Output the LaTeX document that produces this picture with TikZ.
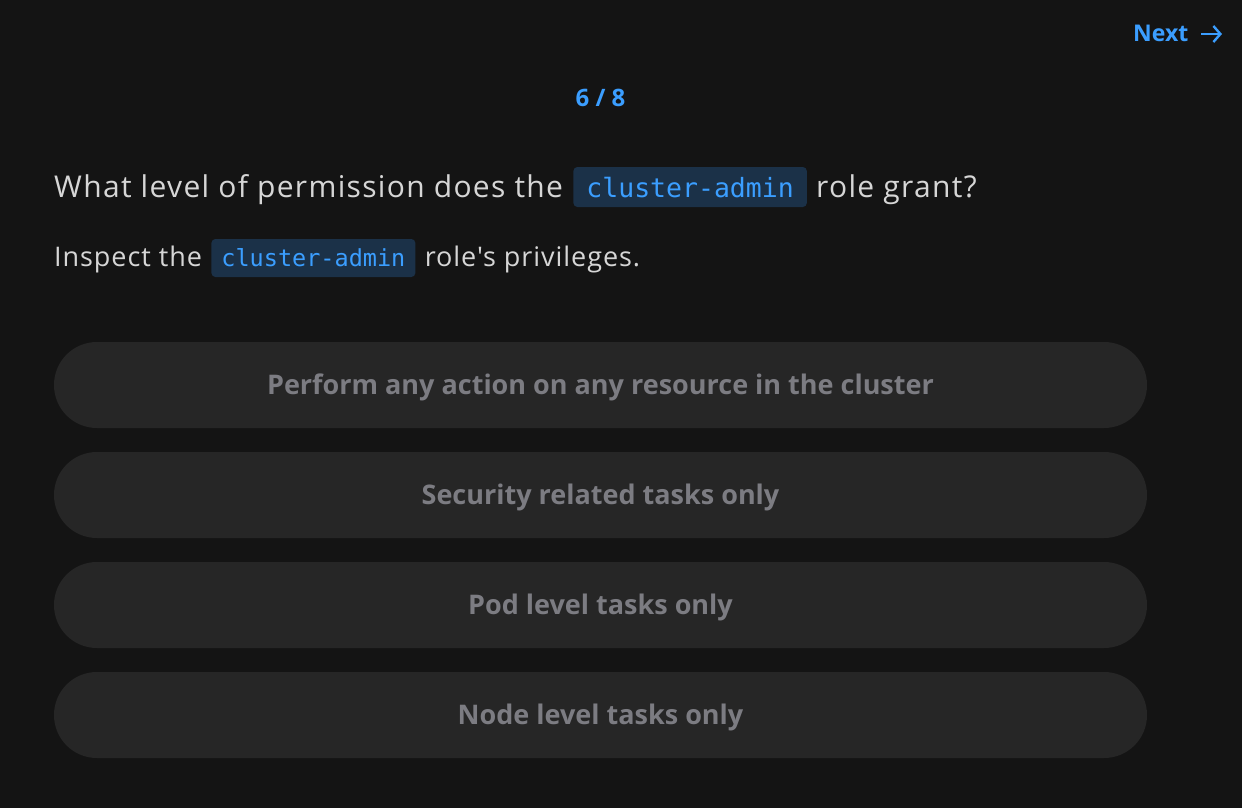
\documentclass[tikz,border=0pt]{standalone}
\usepackage{fontspec}
\setmainfont{Open Sans}[Ligatures=TeXOff]
\newfontfamily\codefont{DejaVu Sans Mono}
\usetikzlibrary{positioning,arrows.meta}
\definecolor{pagebg}{HTML}{141414}
\definecolor{choicebg}{HTML}{262626}
\definecolor{choicefg}{HTML}{7C7C82}
\definecolor{plainfg}{HTML}{D6D6D6}
\definecolor{accent}{HTML}{3B9EFF}
\definecolor{codebg}{HTML}{1B3148}
\def\plainfont#1#2{\fontsize{#1}{#1}\selectfont\addfontfeatures{LetterSpace=#2}}
\tikzset{
  qtext/.style={inner sep=0pt, text=plainfg, anchor=base west},
  codebox/.style={fill=codebg, text=accent, rounded corners=4pt, inner ysep=0pt, anchor=base west},
  choice/.style={fill=choicebg, text=choicefg, font=\fontsize{27}{30}\selectfont\bfseries,
    minimum width=1093pt, minimum height=86pt, rounded corners=42.9pt,
    text height=19.5pt, text depth=0pt, inner sep=0pt},
}
\begin{document}
\begin{tikzpicture}[x=1pt,y=-1pt]
	%%%%% START %%%%%
	\fill[pagebg] (0,0) rectangle (1242,808);
	\useasboundingbox (0,0) rectangle (1242,808);
	
	\node[text=accent, font=\fontsize{23}{28}\selectfont\bfseries, inner sep=0pt, anchor=base west] (next) at (1133,42) {Next};
	\coordinate (nexttail) at (1201,34);
	\coordinate (nexthead) at (1222,34);
	\draw[accent, line width=2.4pt, -{Straight Barb[length=7pt,width=16pt]}] (nexttail) -- (nexthead);
	
	\node[text=accent, font=\fontsize{24}{28}\selectfont\bfseries, inner sep=0pt, anchor=base] (count) at (600.5,106) {6 / 8};
	
	\node[qtext, font=\plainfont{30}{4.4}] (qa) at (54,197) {What level of permission does the};
	\node[codebox, font=\codefont\fontsize{26.5}{30}\selectfont, inner xsep=13pt, text height=30pt, text depth=10pt,
	  right=10pt of qa.base east, anchor=base west] (qcode) {cluster-admin};
	\node[qtext, font=\plainfont{30}{4.4}, right=9pt of qcode.base east, anchor=base west] (qb) {role grant?};
	
	\node[qtext, font=\plainfont{27}{3.5}] (ha) at (54,266) {Inspect the};
	\node[codebox, font=\codefont\fontsize{23.5}{28}\selectfont, inner xsep=10pt, text height=27pt, text depth=11pt,
	  right=9pt of ha.base east, anchor=base west] (hcode) {cluster-admin};
	\node[qtext, font=\plainfont{27}{3.5}, right=9pt of hcode.base east, anchor=base west] (hb) {role's privileges.};
	
	\node[choice] (c1) at (600.5,385) {Perform any action on any resource in the cluster};
	\node[choice] (c2) at (600.5,495) {Security related tasks only};
	\node[choice] (c3) at (600.5,605) {Pod level tasks only};
	\node[choice] (c4) at (600.5,715) {Node level tasks only};
	%%%%% END %%%%%
\end{tikzpicture}
\end{document}
